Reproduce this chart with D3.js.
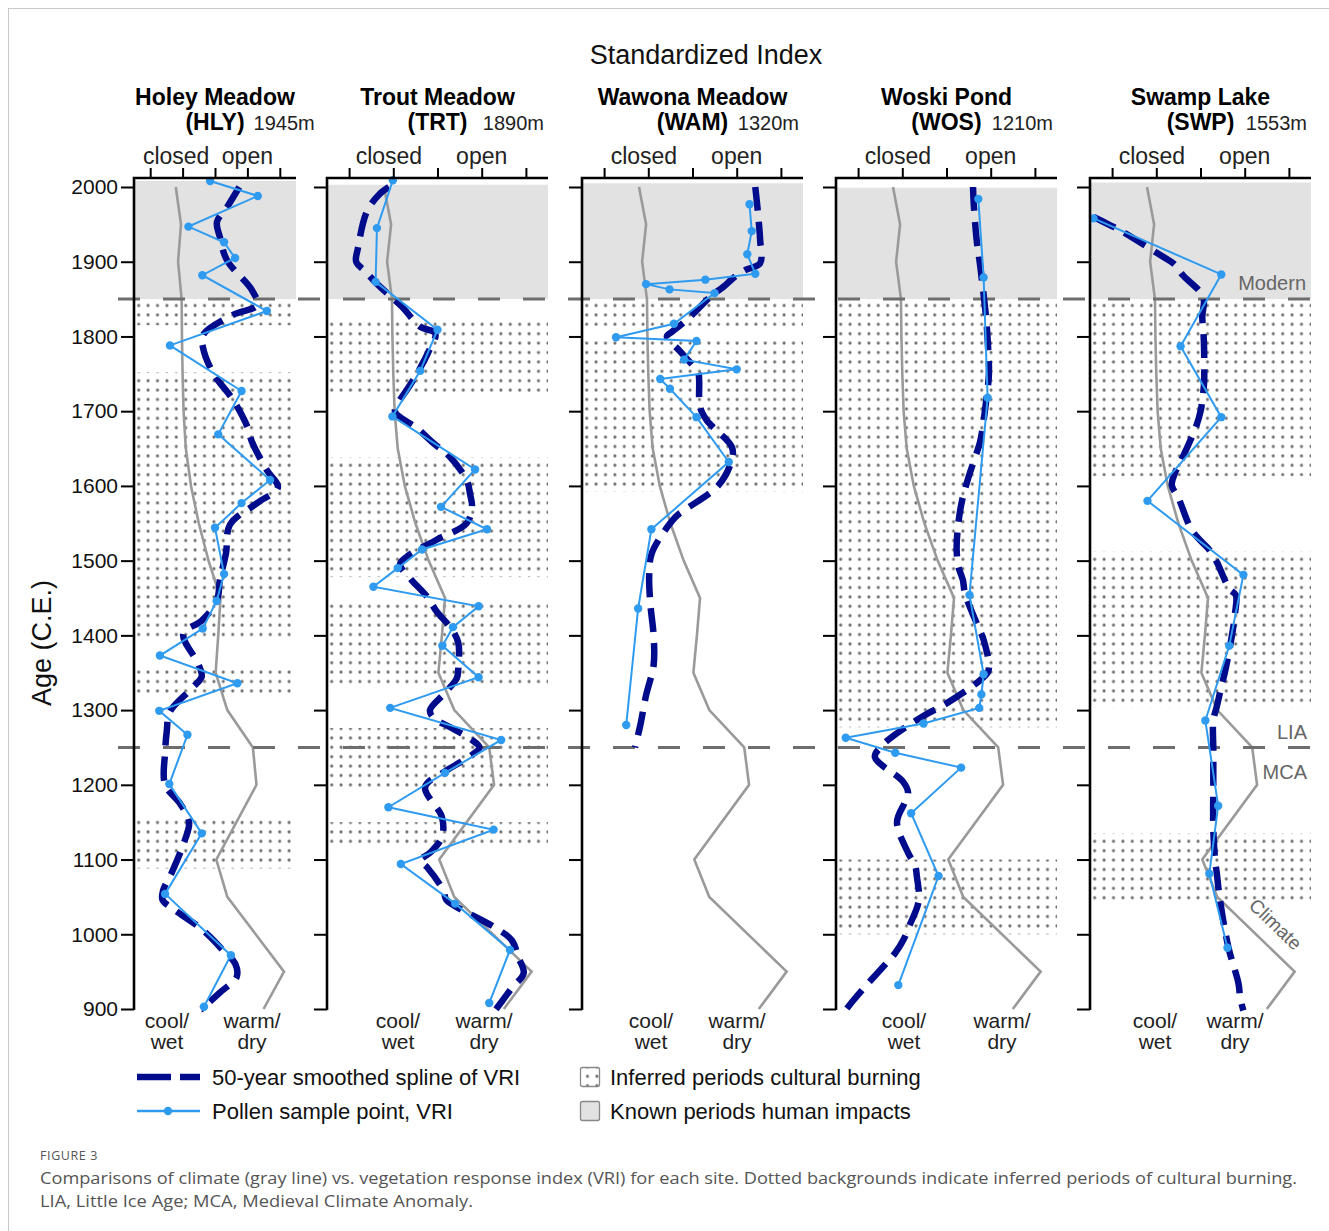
<!DOCTYPE html>
<html lang="en">
<head>
<meta charset="UTF-8">
<title>Figure 3 - Standardized Index</title>
<script src="https://cdn.jsdelivr.net/npm/d3@7"></script>
<style>
  body { margin: 0; background: #fff; }
  svg { display: block; font-family: "Liberation Sans", Arial, sans-serif; }
</style>
</head>
<body>
<svg id="chart" width="1329" height="1231"></svg>
<script>
// ---- data ----
var ageTicks = [2000, 1900, 1800, 1700, 1600, 1500, 1400, 1300, 1200, 1100, 1000, 900]
var indexTicks = [0, 1, 2, 3, 4]

var siteNames = ['Holey Meadow', 'Trout Meadow', 'Wawona Meadow', 'Woski Pond', 'Swamp Lake']
var siteCodes = ['(HLY)', '(TRT)', '(WAM)', '(WOS)', '(SWP)']
var siteElev = ['1945m', '1890m', '1320m', '1210m', '1553m']

// climate index (gray line), same curve in every panel
var climateAge = [2000, 1950, 1900, 1850, 1800, 1750, 1700, 1650, 1600, 1550, 1500, 1450, 1400, 1350, 1300, 1250, 1200, 1100, 1050, 950, 900]
var climateIdx = [0.79, 0.95, 0.86, 0.97, 0.98, 1.0, 1.03, 1.1, 1.26, 1.5, 1.8, 2.17, 2.1, 2.02, 2.38, 3.17, 3.28, 2.04, 2.38, 4.13, 3.5]

// pollen sample points, VRI  [age, index]
var hlyPollen = [[2008, 1.85], [1988, 3.32], [1947, 1.18], [1926, 2.28], [1905, 2.62], [1882, 1.61], [1834, 3.6], [1788, 0.61], [1727, 2.82], [1669, 2.1], [1608, 3.7], [1577, 2.82], [1544, 2.0], [1482, 2.28], [1446, 2.05], [1409, 1.62], [1373, 0.3], [1336, 2.69], [1299, 0.28], [1267, 1.15], [1201, 0.59], [1135, 1.59], [1054, 0.46], [972, 2.49], [903, 1.66]]
var trtPollen = [[2009, 0.99], [1945, 0.63], [1873, 0.6], [1809, 2.0], [1754, 1.61], [1693, 0.98], [1622, 2.85], [1572, 2.08], [1542, 3.12], [1515, 1.65], [1490, 1.1], [1465, 0.55], [1439, 2.93], [1411, 2.35], [1386, 2.11], [1344, 2.93], [1303, 0.93], [1260, 3.44], [1216, 2.17], [1170, 0.89], [1140, 3.27], [1094, 1.17], [1041, 2.4], [979, 3.64], [908, 3.17]]
var wamPollen = [[1977, 3.29], [1941, 3.34], [1910, 3.24], [1884, 3.42], [1876, 2.29], [1870, 0.95], [1863, 1.48], [1858, 2.5], [1817, 1.58], [1799, 0.27], [1794, 2.09], [1769, 1.81], [1756, 3.0], [1743, 1.27], [1730, 1.49], [1692, 2.09], [1632, 2.82], [1542, 1.07], [1436, 0.77], [1280, 0.5]]
var wosPollen = [[1984, 2.72], [1879, 2.84], [1718, 2.93], [1454, 2.52], [1348, 2.84], [1321, 2.79], [1303, 2.74], [1282, 1.48], [1263, -0.28], [1243, 0.84], [1223, 2.33], [1162, 1.2], [1078, 1.82], [932, 0.91]]
var swpPollen = [[1958, -0.42], [1883, 2.47], [1787, 1.55], [1692, 2.47], [1580, 0.8], [1481, 2.97], [1386, 2.65], [1286, 2.11], [1172, 2.4], [1081, 2.2], [982, 2.61]]

// 50-year smoothed spline of VRI  [age, index]
var hlySpline = [[2000, 2.75], [1975, 2.4], [1953, 2.06], [1933, 2.15], [1902, 2.37], [1862, 3.14], [1842, 3.3], [1829, 2.56], [1802, 1.63], [1785, 1.63], [1751, 1.94], [1715, 2.56], [1679, 3.0], [1659, 3.14], [1621, 3.6], [1598, 3.94], [1577, 3.3], [1548, 2.46], [1510, 2.34], [1474, 2.15], [1447, 2.06], [1420, 1.6], [1402, 1.02], [1362, 1.48], [1345, 1.59], [1329, 1.28], [1298, 0.61], [1271, 0.51], [1244, 0.46], [1200, 0.46], [1175, 0.92], [1150, 1.2], [1126, 1.07], [1082, 0.66], [1059, 0.4], [1046, 0.38], [1034, 0.71], [1005, 1.64], [978, 2.26], [961, 2.62], [943, 2.67], [922, 2.15], [900, 1.59]]
var trtSpline = [[2000, 0.9], [1990, 0.68], [1967, 0.4], [1918, 0.2], [1900, 0.16], [1887, 0.37], [1871, 0.62], [1840, 1.19], [1813, 1.61], [1804, 1.95], [1780, 1.8], [1758, 1.61], [1735, 1.38], [1710, 1.1], [1699, 1.04], [1677, 1.54], [1655, 1.95], [1644, 2.2], [1608, 2.66], [1588, 2.74], [1572, 2.78], [1550, 2.66], [1528, 1.98], [1505, 1.3], [1495, 1.15], [1475, 1.4], [1452, 1.76], [1432, 1.98], [1410, 2.3], [1390, 2.47], [1356, 2.47], [1343, 2.44], [1323, 2.17], [1300, 1.83], [1290, 1.9], [1276, 2.32], [1260, 2.78], [1250, 2.95], [1240, 2.78], [1230, 2.51], [1218, 2.17], [1197, 1.72], [1157, 2.1], [1130, 2.1], [1109, 1.83], [1099, 1.61], [1090, 1.76], [1059, 2.13], [1046, 2.2], [1034, 2.51], [1010, 3.27], [992, 3.68], [969, 3.83], [948, 3.95], [928, 3.68], [912, 3.48], [898, 3.3]]
var wamSpline = [[2000, 3.42], [1978, 3.46], [1946, 3.51], [1929, 3.53], [1898, 3.53], [1889, 3.2], [1878, 2.92], [1866, 2.69], [1855, 2.44], [1822, 1.87], [1806, 1.53], [1800, 1.42], [1780, 1.72], [1751, 2.13], [1742, 2.15], [1706, 2.17], [1688, 2.32], [1652, 2.89], [1635, 2.89], [1601, 2.59], [1568, 1.83], [1558, 1.61], [1510, 1.08], [1480, 1.02], [1440, 1.05], [1400, 1.12], [1360, 1.12], [1320, 0.95], [1280, 0.82], [1250, 0.7]]
var wosSpline = [[2000, 2.6], [1974, 2.62], [1925, 2.69], [1900, 2.75], [1871, 2.81], [1822, 2.9], [1786, 2.94], [1750, 2.96], [1715, 2.9], [1679, 2.82], [1659, 2.76], [1612, 2.5], [1577, 2.34], [1540, 2.25], [1514, 2.23], [1492, 2.27], [1474, 2.37], [1456, 2.42], [1411, 2.72], [1394, 2.84], [1353, 2.95], [1340, 2.76], [1304, 1.86], [1296, 1.59], [1269, 0.88], [1250, 0.5], [1237, 0.38], [1204, 1.02], [1190, 1.13], [1177, 1.06], [1150, 0.88], [1108, 1.14], [1092, 1.29], [1077, 1.33], [1050, 1.38], [1037, 1.34], [1010, 1.15], [992, 1.02], [975, 0.84], [956, 0.56], [930, 0.16], [912, -0.1], [898, -0.29]]
var swpSpline = [[1960, -0.42], [1949, -0.05], [1942, 0.18], [1916, 0.9], [1905, 1.2], [1896, 1.42], [1882, 1.6], [1853, 2.06], [1826, 2.04], [1802, 2.07], [1786, 2.08], [1737, 2.08], [1715, 2.04], [1702, 2.01], [1681, 1.91], [1635, 1.57], [1617, 1.42], [1601, 1.35], [1584, 1.5], [1541, 1.8], [1525, 2.03], [1516, 2.18], [1498, 2.37], [1474, 2.55], [1461, 2.67], [1454, 2.8], [1429, 2.78], [1396, 2.7], [1353, 2.56], [1331, 2.47], [1305, 2.37], [1286, 2.29], [1246, 2.29], [1202, 2.29], [1139, 2.29], [1100, 2.33], [1081, 2.37], [1046, 2.44], [983, 2.63], [934, 2.86], [914, 2.9], [898, 2.97]]

// inferred periods of cultural burning [from, to]
var hlyBurn = [[1850, 1815], [1752, 1392], [1357, 1316], [1156, 1088]]
var trtBurn = [[1822, 1724], [1638, 1478], [1444, 1333], [1276, 1197], [1150, 1115]]
var wamBurn = [[1850, 1814], [1800, 1592]]
var wosBurn = [[1850, 1277], [1100, 1000]]
var swpBurn = [[1850, 1613], [1512, 1303], [1135, 1043]]

// known periods human impacts
var hlyImpact = [[2008, 1850]]
var trtImpact = [[2003, 1850]]
var wamImpact = [[2005, 1850]]
var wosImpact = [[1999, 1850]]
var swpImpact = [[2006, 1850]]

var periodBounds = [1850, 1250]   // dashed reference lines

var pollen = [hlyPollen, trtPollen, wamPollen, wosPollen, swpPollen]
var splines = [hlySpline, trtSpline, wamSpline, wosSpline, swpSpline]
var burns = [hlyBurn, trtBurn, wamBurn, wosBurn, swpBurn]
var impacts = [hlyImpact, trtImpact, wamImpact, wosImpact, swpImpact]

// ---- layout ----
var panelLeft = [134, 327, 582, 836, 1090]
var panelWidth = [162, 221, 221, 221, 221]
var closedU = [0.8, 0.9, 0.9, 0.9, 0.9]
var coolX = [33, 71, 69, 68, 65]      // bottom label offsets inside panel
var warmX = [118, 157, 155, 166, 145]
var TOP = 178

var NAVY = '#000c8c', BLUE = '#2f9bf0', CLIM = '#9a9a9a'

var svg = d3.select('#chart')
var y = d3.scaleLinear().domain([2000, 900]).range([187, 1009])

var defs = svg.append('defs')
var pat = defs.append('pattern').attr('id', 'dots')
  .attr('patternUnits', 'userSpaceOnUse').attr('width', 9.4).attr('height', 9.4)
pat.append('circle').attr('cx', 4.7).attr('cy', 4.7).attr('r', 1.55).attr('fill', '#6c6c6c')

// frame
svg.append('line').attr('x1', 8.5).attr('x2', 8.5).attr('y1', 8).attr('y2', 1231).attr('stroke', '#c8c8c8')
svg.append('line').attr('x1', 8).attr('x2', 1329).attr('y1', 8.5).attr('y2', 8.5).attr('stroke', '#c8c8c8')

var bgLayer = svg.append('g')
var refLayer = svg.append('g')
var dataLayer = svg.append('g')
var axisLayer = svg.append('g')
var textLayer = svg.append('g')

// main title
textLayer.append('text').attr('x', 706).attr('y', 64).attr('text-anchor', 'middle')
  .attr('font-size', 27).attr('fill', '#111').text('Standardized Index')

// y axis title
textLayer.append('text').attr('transform', 'translate(51,643) rotate(-90)')
  .attr('text-anchor', 'middle').attr('font-size', 27).attr('fill', '#111').text('Age (C.E.)')

siteNames.forEach(function (name, i) {
  var w = panelWidth[i], L = panelLeft[i]
  var x = d3.scaleLinear().domain([-0.5, 4.5]).range([0, w])

  var bg = bgLayer.append('g').attr('transform', 'translate(' + L + ',0)')
  bg.selectAll('rect.imp').data(impacts[i]).join('rect').attr('class', 'imp')
    .attr('x', 0).attr('width', w)
    .attr('y', function (d) { return y(d[0]) })
    .attr('height', function (d) { return y(d[1]) - y(d[0]) })
    .attr('fill', '#e2e2e2')
  bg.selectAll('rect.burn').data(burns[i]).join('rect').attr('class', 'burn')
    .attr('x', 0).attr('width', w)
    .attr('y', function (d) { return y(d[0]) })
    .attr('height', function (d) { return y(d[1]) - y(d[0]) })
    .attr('fill', 'url(#dots)')

  // climate line
  var climLine = d3.line()
    .x(function (d, k) { return x(climateIdx[k]) })
    .y(function (d) { return y(d) })
  bg.append('path').attr('d', climLine(climateAge))
    .attr('fill', 'none').attr('stroke', CLIM).attr('stroke-width', 2.6)

  var g = dataLayer.append('g').attr('transform', 'translate(' + L + ',0)')
  var line = d3.line()
    .x(function (d) { return x(d[1]) })
    .y(function (d) { return y(d[0]) })

  g.append('path').attr('d', line.curve(d3.curveCatmullRom.alpha(0.5))(splines[i]))
    .attr('fill', 'none').attr('stroke', NAVY).attr('stroke-width', 6.5)
    .attr('stroke-dasharray', '24,11')

  g.append('path').attr('d', line.curve(d3.curveLinear)(pollen[i]))
    .attr('fill', 'none').attr('stroke', BLUE).attr('stroke-width', 2)
  g.selectAll('circle').data(pollen[i]).join('circle')
    .attr('cx', function (d) { return x(d[1]) })
    .attr('cy', function (d) { return y(d[0]) })
    .attr('r', 4.2).attr('fill', BLUE)

  // axes
  var ax = axisLayer.append('g').attr('transform', 'translate(' + L + ',0)')
  var yAxis = d3.axisLeft(y).tickValues(ageTicks).tickSize(13).tickPadding(3)
    .tickFormat(i > 0 ? '' : d3.format('d'))
  ax.append('g').call(yAxis).call(function (s) {
    s.select('.domain').remove()
    s.selectAll('line').attr('stroke', '#000').attr('stroke-width', 2)
    s.selectAll('text').attr('font-size', 21).attr('fill', '#111')
      .attr('font-family', '"Liberation Sans", Arial, sans-serif')
  })
  var xAxis = d3.axisTop(x).tickValues(indexTicks).tickSize(10).tickFormat('')
  ax.append('g').attr('transform', 'translate(0,' + TOP + ')').call(xAxis).call(function (s) {
    s.select('.domain').remove()
    s.selectAll('line').attr('stroke', '#000').attr('stroke-width', 2)
  })
  ax.append('path')
    .attr('d', 'M' + w + ',' + TOP + 'H0V' + (y(900) + 1))
    .attr('fill', 'none').attr('stroke', '#000').attr('stroke-width', 2.6)

  // labels
  var t = textLayer.append('g').attr('transform', 'translate(' + L + ',0)')
  t.append('text').attr('x', w / 2).attr('y', 105).attr('text-anchor', 'middle')
    .attr('font-size', 23).attr('font-weight', 'bold').attr('fill', '#000').text(name)
  var code = t.append('text').attr('x', w / 2).attr('y', 130).attr('text-anchor', 'middle')
    .attr('font-size', 23).attr('font-weight', 'bold').attr('fill', '#000').text(siteCodes[i])
  var codeEnd = w / 2 + code.node().getComputedTextLength() / 2
  var elev = t.append('text').attr('y', 130).attr('font-size', 20).attr('fill', '#222').text(siteElev[i])
  var ew = elev.node().getComputedTextLength()
  elev.attr('x', Math.max(codeEnd + 9, w - 4 - ew))

  t.append('text').attr('x', x(closedU[i])).attr('y', 164).attr('text-anchor', 'middle')
    .attr('font-size', 23).attr('fill', '#222').text('closed')
  t.append('text').attr('x', x(3.0)).attr('y', 164).attr('text-anchor', 'middle')
    .attr('font-size', 23).attr('fill', '#222').text('open')

  ;[[coolX[i], 'cool/', 'wet'], [warmX[i], 'warm/', 'dry']].forEach(function (lb) {
    var tx = t.append('text').attr('text-anchor', 'middle').attr('font-size', 21).attr('fill', '#222')
    tx.append('tspan').attr('x', lb[0]).attr('y', 1028).text(lb[1])
    tx.append('tspan').attr('x', lb[0]).attr('y', 1049).text(lb[2])
  })
})

// dashed period boundaries
refLayer.selectAll('line').data(periodBounds).join('line')
  .attr('x1', 118).attr('x2', 1329)
  .attr('y1', function (d) { return y(d) }).attr('y2', function (d) { return y(d) })
  .attr('stroke', '#6e6e6e').attr('stroke-width', 3).attr('stroke-dasharray', '22,23')

// period labels (last panel)
var lab = textLayer.append('g').attr('fill', '#666').attr('font-size', 20).attr('text-anchor', 'end')
lab.append('text').attr('x', 1306).attr('y', 290).text('Modern')
lab.append('text').attr('x', 1307).attr('y', 739).text('LIA')
lab.append('text').attr('x', 1307).attr('y', 779).text('MCA')
lab.append('text').attr('text-anchor', 'middle').attr('font-size', 19)
  .attr('transform', 'translate(1271,929) rotate(44)').text('Climate')

// legend
var lg = textLayer.append('g').attr('font-size', 22).attr('fill', '#111')
lg.append('path').attr('d', 'M137,1077H200').attr('stroke', NAVY).attr('stroke-width', 6.5)
  .attr('stroke-dasharray', '34,9')
lg.append('text').attr('x', 212).attr('y', 1085).text('50-year smoothed spline of VRI')
lg.append('path').attr('d', 'M137,1111H200').attr('stroke', BLUE).attr('stroke-width', 2.5)
lg.append('circle').attr('cx', 168).attr('cy', 1111).attr('r', 4.2).attr('fill', BLUE)
lg.append('text').attr('x', 212).attr('y', 1119).text('Pollen sample point, VRI')
lg.append('rect').attr('x', 580.5).attr('y', 1067.5).attr('width', 19).attr('height', 19)
  .attr('fill', 'url(#dots)').attr('stroke', '#888').attr('stroke-width', 1.3).attr('rx', 2)
lg.append('text').attr('x', 610).attr('y', 1085).text('Inferred periods cultural burning')
lg.append('rect').attr('x', 580.5).attr('y', 1101.5).attr('width', 19).attr('height', 19)
  .attr('fill', '#e2e2e2').attr('stroke', '#888').attr('stroke-width', 1.3).attr('rx', 2)
lg.append('text').attr('x', 610).attr('y', 1119).text('Known periods human impacts')

// caption
var cap = svg.append('g').attr('font-family', '"Open Sans", "Noto Sans", sans-serif').attr('fill', '#555')
cap.append('text').attr('x', 40).attr('y', 1160).attr('font-size', 12.5).attr('letter-spacing', 0.6).text('FIGURE 3')
cap.append('text').attr('x', 40).attr('y', 1184).attr('font-size', 16.5)
  .attr('textLength', 1257).attr('lengthAdjust', 'spacingAndGlyphs')
  .text('Comparisons of climate (gray line) vs. vegetation response index (VRI) for each site. Dotted backgrounds indicate inferred periods of cultural burning.')
cap.append('text').attr('x', 40).attr('y', 1207).attr('font-size', 16.5)
  .attr('textLength', 433).attr('lengthAdjust', 'spacingAndGlyphs')
  .text('LIA, Little Ice Age; MCA, Medieval Climate Anomaly.')
</script>
</body>
</html>
